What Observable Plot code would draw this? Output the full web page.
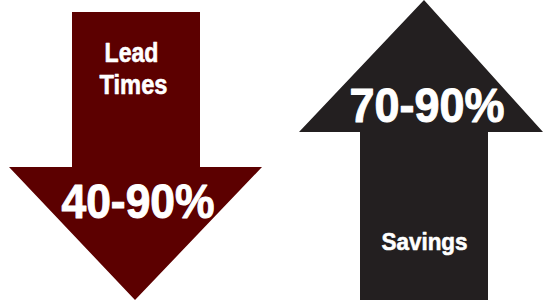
<!DOCTYPE html>
<html>
<head>
<meta charset="utf-8">
<script src="https://cdn.jsdelivr.net/npm/d3@7"></script>
<script src="https://cdn.jsdelivr.net/npm/@observablehq/plot@0.6"></script>
<style>
  html, body { margin: 0; padding: 0; background: #ffffff; }
  #chart svg { display: block; }
</style>
</head>
<body>
<div id="chart"></div>
<script>
// Arrow outlines (in the 0–543 × 0–300 drawing space): y levels with left/right edges
const leadY  = [12, 167, 167, 300];
const leadX1 = [72, 72, 9, 135];
const leadX2 = [200, 200, 262, 135];

const savY  = [0, 132, 132, 300];
const savX1 = [424, 299, 360, 360];
const savX2 = [424, 543, 488, 488];

const arrowColors = ["#5c0000", "#231f20"];

// Labels
const labelText   = ["Lead", "Times", "40-90%", "70-90%", "Savings"];
const labelX      = [131, 133, 137.5, 426.5, 424];
const labelY      = [61, 93, 217, 121, 249];
const labelSize   = [28, 28, 48, 48, 24.5];
const labelWidth  = [54, 68, 153, 155, 86];

const lead = leadY.map((y, i) => ({y, x1: leadX1[i], x2: leadX2[i]}));
const sav  = savY.map((y, i) => ({y, x1: savX1[i], x2: savX2[i]}));
const labels = labelText.map((t, i) => ({t, x: labelX[i], y: labelY[i], s: labelSize[i], w: labelWidth[i]}));

const font = "'Liberation Sans', Arial, sans-serif";

const plot = Plot.plot({
  width: 543,
  height: 300,
  margin: 0,
  x: {domain: [0, 543], axis: null},
  y: {domain: [300, 0], axis: null},
  marks: [
    Plot.areaX(lead, {y: "y", x1: "x1", x2: "x2", fill: arrowColors[0], curve: "linear"}),
    Plot.areaX(sav, {y: "y", x1: "x1", x2: "x2", fill: arrowColors[1], curve: "linear"}),
    Plot.text(labels, {
      x: "x", y: "y", text: "t",
      fontSize: d => d.s,
      fill: "#ffffff",
      stroke: "#ffffff",
      strokeWidth: d => d.s > 40 ? 1 : 0.6,
      fontWeight: "bold",
      fontFamily: font,
      textAnchor: "middle",
      lineAnchor: "bottom"
    })
  ]
});

document.getElementById("chart").appendChild(plot);

// condense each label to the reference's narrow bold face
d3.select(plot).selectAll("text").each(function(d, i) {
  const idx = typeof d === "number" ? d : i;
  if (labels[idx]) {
    d3.select(this)
      .attr("textLength", labels[idx].w)
      .attr("lengthAdjust", "spacingAndGlyphs");
  }
});
</script>
</body>
</html>
